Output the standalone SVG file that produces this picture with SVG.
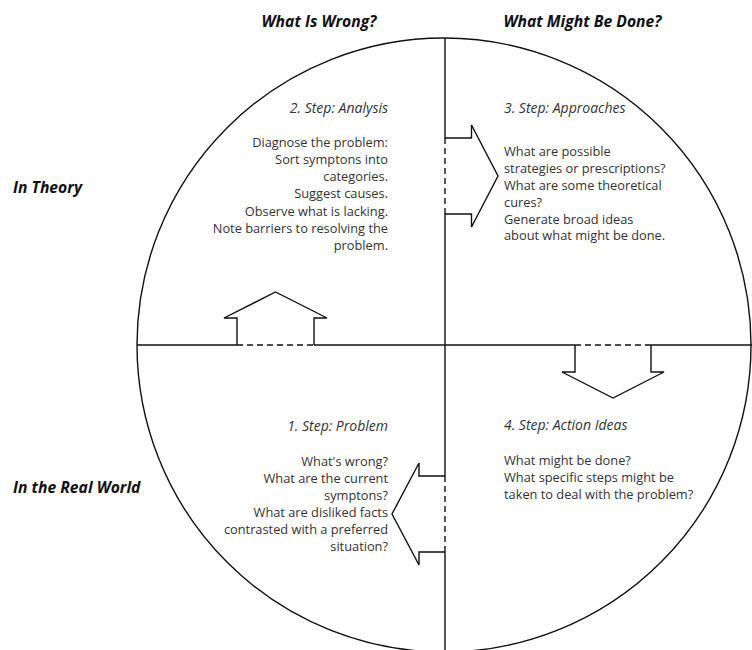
<svg xmlns="http://www.w3.org/2000/svg" width="752" height="650" viewBox="0 0 752 650">
<style>
.ln{fill:none;stroke:#111;stroke-width:1.4}
.ds{fill:none;stroke:#111;stroke-width:1.4;stroke-dasharray:6 4}
.hd{font-family:"Open Sans","Liberation Sans",sans-serif;font-size:15.7px;font-weight:bold;font-style:italic;fill:#111}
.tt{font-family:"Open Sans","Liberation Sans",sans-serif;font-size:14px;font-style:italic;fill:#333}
.bd{font-family:"Open Sans","Liberation Sans",sans-serif;font-size:12.8px;fill:#333}
.r{text-anchor:end}
</style>
<rect width="752" height="650" fill="#fff"/>
<g id="frame">
<circle class="ln" cx="444" cy="345" r="307"/>
<path class="ln" d="M137,345H237M314,345H575M651,345H752"/>
<path class="ds" d="M237,345H314M575,345H651"/>
<path class="ln" d="M445,38V138M445,214V476M445,552V650"/>
<path class="ds" d="M445,138V214M445,476V552"/>
</g>
<g id="connectors">
<path class="ln" d="M237,345V318H224L275.5,292L327,318H314V345"/>
<path class="ln" d="M445,138H471.5V125L498,176L471.5,227V214H445"/>
<path class="ln" d="M575,345V372H562L613,398L664,372H651V345"/>
<path class="ln" d="M445,476H419V463L392,514L419,565V552H445"/>
</g>
<g id="header-wrong"><text class="hd" x="319" y="27" text-anchor="middle">What Is Wrong?</text></g>
<g id="header-done"><text class="hd" x="582.5" y="27" text-anchor="middle">What Might Be Done?</text></g>
<g id="label-theory"><text class="hd" x="13" y="193">In Theory</text></g>
<g id="label-real"><text class="hd" x="13" y="493">In the Real World</text></g>
<g id="step2">
<text class="tt r" x="388" y="113">2. Step: Analysis</text>
<text class="bd r" x="388" y="147">Diagnose the problem:</text>
<text class="bd r" x="388" y="164">Sort symptons into</text>
<text class="bd r" x="388" y="181">categories.</text>
<text class="bd r" x="388" y="198">Suggest causes.</text>
<text class="bd r" x="388" y="215.5">Observe what is lacking.</text>
<text class="bd r" x="388" y="232.5">Note barriers to resolving the</text>
<text class="bd r" x="388" y="250">problem.</text>
</g>
<g id="step3">
<text class="tt" x="504" y="113">3. Step: Approaches</text>
<text class="bd" x="504" y="156">What are possible</text>
<text class="bd" x="504" y="173">strategies or prescriptions?</text>
<text class="bd" x="504" y="190">What are some theoretical</text>
<text class="bd" x="504" y="206.5">cures?</text>
<text class="bd" x="504" y="223.5">Generate broad ideas</text>
<text class="bd" x="504" y="240">about what might be done.</text>
</g>
<g id="step1">
<text class="tt r" x="388" y="431">1. Step: Problem</text>
<text class="bd r" x="388" y="466">What's wrong?</text>
<text class="bd r" x="388" y="483">What are the current</text>
<text class="bd r" x="388" y="500">symptons?</text>
<text class="bd r" x="388" y="517">What are disliked facts</text>
<text class="bd r" x="388" y="533.5">contrasted with a preferred</text>
<text class="bd r" x="388" y="550.5">situation?</text>
</g>
<g id="step4">
<text class="tt" x="504" y="430">4. Step: Action Ideas</text>
<text class="bd" x="504" y="465">What might be done?</text>
<text class="bd" x="504" y="482">What specific steps might be</text>
<text class="bd" x="504" y="499">taken to deal with the problem?</text>
</g>
</svg>
